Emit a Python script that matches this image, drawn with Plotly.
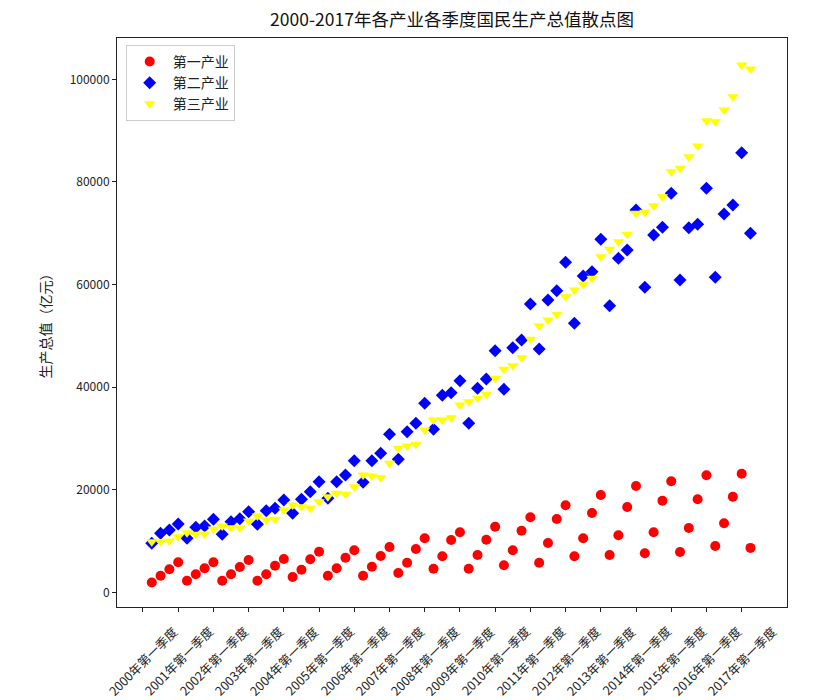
import plotly.graph_objects as go

# ---------------- data (亿元), 2000Q1 .. 2017Q1 ----------------
quarter_pos = list(range(1, 70))

primary = [1908, 3235, 4482, 5847,
           2261, 3508, 4677, 5847,
           2261, 3508, 4931, 6295,
           2261, 3508, 5184, 6490,
           2982, 4405, 6432, 7913,
           3235, 4677, 6744, 8186,
           3235, 4990, 7075, 8829,
           3762, 5770, 8439, 10525,
           4600, 7016, 10193, 11694,
           4600, 7270, 10252, 12786,
           5262, 8186, 12006, 14617,
           5770, 9609, 14286, 16956,
           7016, 10525, 15456, 18964,
           7270, 11110, 16625, 20718,
           7601, 11694, 17853, 21634,
           7855, 12532, 18126, 22803,
           9024, 13448, 18633, 23115,
           8654]

secondary = [9548, 11499, 12142, 13312,
             10525, 12669, 12922, 14228,
             11304, 13760, 14345, 15709,
             13253, 15904, 16372, 17989,
             15397, 18126, 19607, 21556,
             18321, 21556, 22862, 25649,
             21439, 25649, 27091, 30794,
             25922, 31300, 32938, 36836,
             31769, 38395, 38902, 41241,
             32938, 39760, 41572, 47088,
             39565, 47673, 49173, 56190,
             47419, 56970, 58783, 64318,
             52429, 61647, 62485, 68800,
             55860, 65097, 66714, 74511,
             59445, 69638, 71139, 77765,
             60867, 71061, 71724, 78740,
             61394, 73731, 75486, 85678,
             70005]

tertiary = [9874, 9862, 9998, 10837,
            11616, 11304, 11363, 12337,
            12922, 12591, 12591, 13896,
            14871, 14091, 14228, 16040,
            17015, 16683, 16372, 17658,
            18633, 19295, 19100, 20581,
            22862, 22667, 22336, 25142,
            28066, 28514, 28845, 31632,
            33581, 33581, 34029, 36505,
            37148, 37811, 38590, 41709,
            43463, 44165, 45724, 49310,
            51902, 53072, 54183, 57613,
            58919, 60030, 61199, 65409,
            66850, 68333, 69774, 73867,
            74062, 75349, 77103, 81976,
            82638, 84899, 86984, 91916,
            91721, 94002, 96594, 102772,
            102024]

tick_pos = list(range(0, 69, 4))
tick_labels = ['2000年第一季度', '2001年第一季度', '2002年第一季度', '2003年第一季度',
               '2004年第一季度', '2005年第一季度', '2006年第一季度', '2007年第一季度',
               '2008年第一季度', '2009年第一季度', '2010年第一季度', '2011年第一季度',
               '2012年第一季度', '2013年第一季度', '2014年第一季度', '2015年第一季度',
               '2016年第一季度', '2017年第一季度']

series_names = ['第一产业', '第二产业', '第三产业']

FONT = 'Noto Sans CJK SC, sans-serif'

fig = go.Figure()
fig.add_trace(go.Scatter(x=quarter_pos, y=primary, mode='markers', name=series_names[0],
                         marker=dict(symbol='circle', size=10, color='red', line=dict(width=0))))
fig.add_trace(go.Scatter(x=quarter_pos, y=secondary, mode='markers', name=series_names[1],
                         marker=dict(symbol='diamond', size=10, color='blue', line=dict(width=0))))
fig.add_trace(go.Scatter(x=quarter_pos, y=tertiary, mode='markers', name=series_names[2],
                         marker=dict(symbol='triangle-down', size=10, color='yellow', line=dict(width=0))))

annotations = []
for p, lab in zip(tick_pos, tick_labels):
    annotations.append(dict(x=p, y=-0.02, xref='x', yref='paper', text=lab, showarrow=False,
                            textangle=-45, xanchor='center', yanchor='top',
                            font=dict(family=FONT, size=12.5, color='#222')))
annotations.append(dict(x=-0.1075, y=0.5, xref='paper', yref='paper', text='生产总值（亿元）',
                        showarrow=False, textangle=-90, xanchor='center', yanchor='middle',
                        font=dict(family=FONT, size=14, color='#222')))

fig.update_layout(
    width=831, height=700,
    margin=dict(l=117, r=44, t=38, b=93),
    paper_bgcolor='white', plot_bgcolor='white',
    font=dict(family=FONT, size=12, color='#222'),
    title=dict(text='2000-2017年各产业各季度国民生产总值散点图', x=0.5, xref='paper', xanchor='center',
               y=1 - 20 / 700, yref='container', yanchor='middle',
               font=dict(family=FONT, size=17.5, color='#111')),
    showlegend=True,
    legend=dict(x=0.013, y=0.988, xanchor='left', yanchor='top', bgcolor='white',
                bordercolor='#cccccc', borderwidth=1, font=dict(family=FONT, size=14, color='#222'),
                itemwidth=36, tracegroupgap=0),
    annotations=annotations,
)
fig.update_xaxes(range=[-2.95, 73.15], tickvals=tick_pos, showticklabels=False,
                 ticks='outside', ticklen=4, tickcolor='#222', showgrid=False, zeroline=False,
                 showline=True, linecolor='#222', linewidth=1, mirror=True)
fig.update_yaxes(range=[-2865, 108050], tickvals=[0, 20000, 40000, 60000, 80000, 100000],
                 tickformat='d', ticks='outside', ticklen=4, tickcolor='#222', showgrid=False,
                 zeroline=False, showline=True, linecolor='#222', linewidth=1, mirror=True,
                 tickfont=dict(family=FONT, size=12, color='#222'))

fig.write_html('out.html')
